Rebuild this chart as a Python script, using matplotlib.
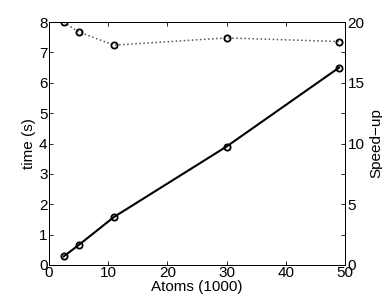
import matplotlib
matplotlib.use('Agg')
from matplotlib import pyplot as plt
from matplotlib.ticker import MultipleLocator

plt.rcParams['font.family'] = ['Liberation Sans', 'DejaVu Sans']

atoms = [2.5, 5, 11, 30, 49]
time_s = [0.28, 0.65, 1.58, 3.9, 6.5]
speedup = [20.0, 19.2, 18.1, 18.7, 18.4]

fig = plt.figure(figsize=(3.82, 2.99), dpi=100)
ax = fig.add_axes([0.128, 0.114, 0.775, 0.812])
ax.plot(atoms, time_s, '-o', color='black', lw=1.5, ms=4.5,
        mfc='none', mew=1.3)
ax.set_xlim(0, 50)
ax.set_ylim(0, 8)
ax.xaxis.set_major_locator(MultipleLocator(10))
ax.yaxis.set_major_locator(MultipleLocator(1))
ax.tick_params(direction='in', length=3, width=0.6, labelsize=11, pad=1,
               top=True)
ax.set_xlabel('Atoms (1000)', fontsize=11, labelpad=0)
ax.set_ylabel('time (s)', fontsize=11, labelpad=2)

ax2 = ax.twinx()
ax2.plot(atoms, speedup, ':o', color='#555555', lw=1.1, ms=4.5,
         mfc='none', mec='black', mew=1.3)
ax2.set_ylim(0, 20)
ax2.yaxis.set_major_locator(MultipleLocator(5))
ax2.yaxis.set_minor_locator(MultipleLocator(2.5))
ax2.tick_params(axis='y', which='both', direction='in', length=3, width=0.6,
                labelsize=11, pad=2)
ax2.set_ylabel('Speed\u2212up', fontsize=11, labelpad=3)

for a in (ax, ax2):
    for s in a.spines.values():
        s.set_linewidth(0.7)

plt.savefig('out.png', dpi=100)
